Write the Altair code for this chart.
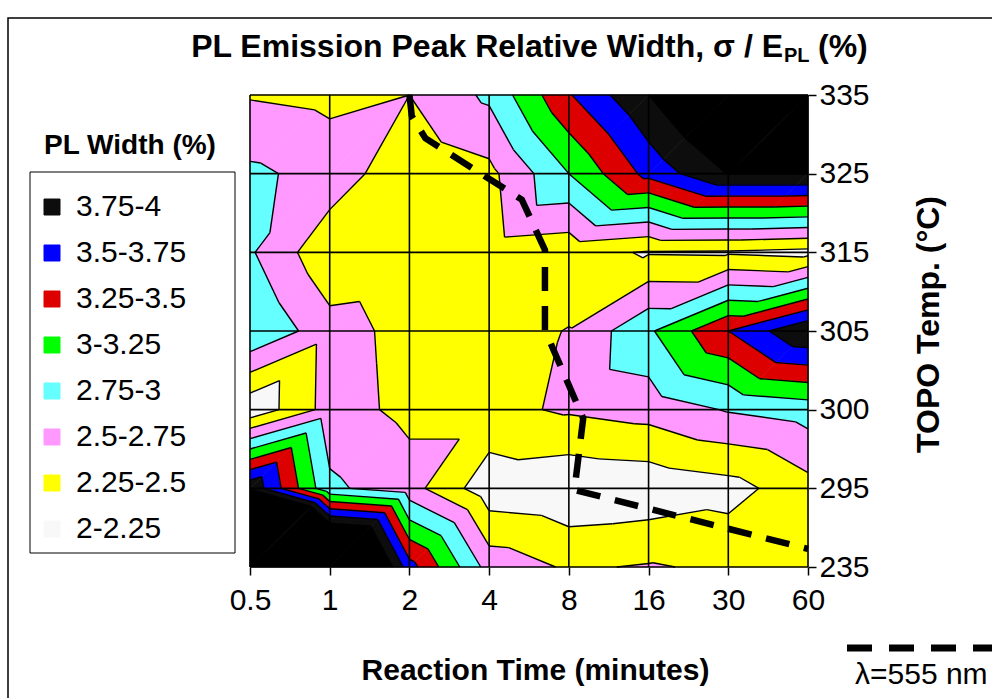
import math
import altair as alt
import pandas as pd

# Category axes
time_labels = ["0.5", "1", "2", "4", "8", "16", "30", "60"]
temp_labels = ["235", "295", "300", "305", "315", "325", "335"]

# PL peak relative width (%) per TOPO temperature row, one value per reaction time
width_235 = [8.00, 5.50, 3.60, 2.65, 2.47, 2.52, 2.46, 2.40]
width_295 = [3.95, 2.80, 2.60, 2.09, 2.04, 2.07, 2.15, 2.41]
width_300 = [2.05, 2.60, 2.44, 2.44, 2.53, 2.60, 2.77, 2.86]
width_305 = [3.00, 2.59, 2.43, 2.40, 2.51, 2.96, 3.50, 3.99]
width_315 = [2.78, 2.31, 2.35, 2.38, 2.33, 2.23, 2.22, 2.17]
width_325 = [2.80, 2.66, 2.30, 2.43, 3.00, 3.58, 4.01, 4.01]
width_335 = [2.48, 2.43, 2.50, 2.80, 3.48, 4.00, 4.50, 4.50]

# Contour bands (legend order, top to bottom)
band_labels = ["3.75-4", "3.5-3.75", "3.25-3.5", "3-3.25", "2.75-3", "2.5-2.75", "2.25-2.5", "2-2.25"]
band_lows = [3.75, 3.5, 3.25, 3.0, 2.75, 2.5, 2.25, 2.0]
band_colors = ["#0d0d0d", "#0000ff", "#dd0000", "#00ff00", "#66ffff", "#ff99ff", "#ffff00", "#f8f8f8"]
over_label = "above 4"
over_color = "#000000"

# lambda = 555 nm iso-wavelength path, in (time index, temperature index) units
lambda_time_pos = [2.00, 2.03, 2.20, 3.41, 3.70, 3.70, 4.18, 4.07, 7.00]
lambda_temp_pos = [6.00, 5.73, 5.45, 4.67, 4.03, 3.01, 1.89, 0.98, 0.23]

FONT = "Liberation Sans"

grid = [width_235, width_295, width_300, width_305, width_315, width_325, width_335]
nx, ny = len(time_labels), len(temp_labels)

bands = [(over_label, 4.0, math.inf)]
for k, (lab, lo) in enumerate(zip(band_labels, band_lows)):
    bands.append((lab, -math.inf if k == len(band_labels) - 1 else lo, lo + 0.25))
levels = [2.25 + 0.25 * k for k in range(8)]


def cut(p, q, level):
    t = (level - p[2]) / (q[2] - p[2])
    return (p[0] + t * (q[0] - p[0]), p[1] + t * (q[1] - p[1]), level)


def clip(poly, level, keep_above):
    out = []
    n = len(poly)
    for k in range(n):
        p, q = poly[k], poly[(k + 1) % n]
        p_in = p[2] >= level if keep_above else p[2] <= level
        q_in = q[2] >= level if keep_above else q[2] <= level
        if p_in:
            out.append(p)
        if p_in != q_in:
            out.append(cut(p, q, level))
    return out


def area(poly):
    s = 0.0
    for k in range(len(poly)):
        x1, y1, _ = poly[k]
        x2, y2, _ = poly[(k + 1) % len(poly)]
        s += x1 * y2 - x2 * y1
    return abs(s) / 2


# Each grid cell is split along its lower-left to upper-right diagonal
triangles = []
for j in range(ny - 1):
    for i in range(nx - 1):
        bl = (i, j, grid[j][i])
        br = (i + 1, j, grid[j][i + 1])
        tl = (i, j + 1, grid[j + 1][i])
        tr = (i + 1, j + 1, grid[j + 1][i + 1])
        triangles.append([bl, tr, tl])
        triangles.append([bl, br, tr])

poly_rows = []
pid = 0
for tri in triangles:
    for lab, lo, hi in bands:
        poly = tri
        if lo > -math.inf:
            poly = clip(poly, lo, True)
        if len(poly) >= 3 and hi < math.inf:
            poly = clip(poly, hi, False)
        if len(poly) < 3 or area(poly) < 1e-7:
            continue
        for k, (x, y, _) in enumerate(poly + [poly[0]]):
            poly_rows.append({"poly": pid, "k": k, "x": x, "y": y, "band": lab})
        pid += 1
poly_df = pd.DataFrame(poly_rows)

seg_rows = []
for tri in triangles:
    for level in levels:
        pts = []
        for a, b in ((tri[0], tri[1]), (tri[1], tri[2]), (tri[2], tri[0])):
            if (a[2] >= level) != (b[2] >= level):
                pts.append(cut(a, b, level))
        if len(pts) == 2:
            seg_rows.append({"x": pts[0][0], "y": pts[0][1], "x2": pts[1][0], "y2": pts[1][1]})
seg_df = pd.DataFrame(seg_rows)

lambda_df = pd.DataFrame({"x": lambda_time_pos, "y": lambda_temp_pos, "k": range(len(lambda_time_pos))})
vgrid_df = pd.DataFrame({"x": list(range(nx))})
hgrid_df = pd.DataFrame({"y": list(range(ny))})

x_scale = alt.Scale(domain=[0, nx - 1], nice=False, zero=False)
y_scale = alt.Scale(domain=[0, ny - 1], nice=False, zero=False)
time_expr = "[" + ",".join("'%s'" % s for s in time_labels) + "][datum.value]"
temp_expr = "[" + ",".join("'%s'" % s for s in temp_labels) + "][datum.value]"

x_axis = alt.Axis(
    values=list(range(nx)), labelExpr=time_expr, grid=False, domain=False,
    tickSize=8, tickColor="black", tickWidth=1.5, labelFlush=False, labelOverlap=False,
    labelFont=FONT, labelFontSize=30, labelColor="black", labelPadding=10,
    title="Reaction Time (minutes)", titleFont=FONT, titleFontSize=30, titleFontWeight="bold",
    titleColor="black", titleX=285, titleY=103, titleBaseline="middle", titleAlign="center",
)
y_axis = alt.Axis(
    orient="right", values=list(range(ny)), labelExpr=temp_expr, grid=False, domain=False,
    tickSize=8, tickColor="black", tickWidth=1.5, labelFlush=False, labelOverlap=False,
    labelFont=FONT, labelFontSize=30, labelColor="black", labelPadding=3,
    labelAlign="left", labelBaseline="middle",
    title="TOPO Temp. (°C)", titleFont=FONT, titleFontSize=32, titleFontWeight="bold",
    titleColor="black", titleAngle=270, titleX=120, titleY=229, titleBaseline="middle",
    titleAlign="center",
)


def X(field):
    return alt.X(field, type="quantitative", scale=x_scale, axis=x_axis)


def Y(field):
    return alt.Y(field, type="quantitative", scale=y_scale, axis=y_axis)


band_scale = alt.Scale(domain=band_labels + [over_label], range=band_colors + [over_color])

blank = alt.Data(values=[{}])

frame = alt.Chart(blank).mark_rect(fillOpacity=0, stroke="black", strokeWidth=1.5).encode(
    x=alt.value(-242), x2=alt.value(760), y=alt.value(-77), y2=alt.value(640)
)
legend_box = alt.Chart(blank).mark_rect(fill="white", stroke="black", strokeWidth=1).encode(
    x=alt.value(-220), x2=alt.value(-15), y=alt.value(77), y2=alt.value(458)
)

fills = alt.Chart(poly_df).mark_line(strokeWidth=0.8, strokeJoin="round").encode(
    x=X("x"),
    y=Y("y"),
    fill=alt.Fill(
        "band:N", scale=band_scale,
        legend=alt.Legend(
            title=None, values=band_labels, orient="none", legendX=-213, legendY=97,
            padding=0, symbolType="square", symbolSize=256, symbolStrokeColor="black",
            symbolStrokeWidth=1, labelFont=FONT, labelFontSize=30, labelColor="black",
            labelOffset=9, rowPadding=16,
        ),
    ),
    stroke=alt.Stroke("band:N", scale=band_scale, legend=None),
    detail="poly:N",
    order="k:Q",
)

contours = alt.Chart(seg_df).mark_rule(color="black", strokeWidth=1.4).encode(
    x=X("x"), y=Y("y"), x2="x2", y2="y2"
)

vgrid = alt.Chart(vgrid_df).mark_rule(color="black", strokeWidth=1.6).encode(x=X("x"))
hgrid = alt.Chart(hgrid_df).mark_rule(color="black", strokeWidth=1.6).encode(y=Y("y"))

lam = alt.Chart(lambda_df).mark_line(
    color="black", strokeWidth=6.5, strokeDash=[24, 15], strokeCap="butt"
).encode(x=X("x"), y=Y("y"), order="k:Q")


def label(text, x, y, size, weight="normal", align="center", baseline="middle"):
    return alt.Chart(blank).mark_text(
        text=text, font=FONT, fontSize=size, fontWeight=weight, align=align,
        baseline=baseline, color="black",
    ).encode(x=alt.value(x), y=alt.value(y))


title_main = label("PL Emission Peak Relative Width, σ / E", 533, -38, 32, "bold", "right", "alphabetic")
title_sub = label("PL", 534, -33, 20, "bold", "left", "alphabetic")
title_end = label("(%)", 568, -38, 32, "bold", "left", "alphabetic")
legend_title = label("PL Width (%)", -120, 51, 28, "bold")

lam_key = alt.Chart(blank).mark_rule(
    color="black", strokeWidth=7, strokeDash=[25, 17], strokeCap="butt"
).encode(x=alt.value(597), x2=alt.value(760), y=alt.value(553))
lam_text = label("λ=555 nm", 605, 580, 30, "normal", "left")

chart = alt.layer(
    frame, legend_box, fills, contours, vgrid, hgrid, lam,
    title_main, title_sub, title_end, legend_title, lam_key, lam_text,
).properties(
    width=558, height=472,
    padding={"left": 250, "top": 95, "right": 184, "bottom": 131},
    autosize=alt.AutoSizeParams(type="none"),
    background="white",
).configure_view(stroke=None)

chart.save("out.html", embed_options={"renderer": "svg", "actions": False})
